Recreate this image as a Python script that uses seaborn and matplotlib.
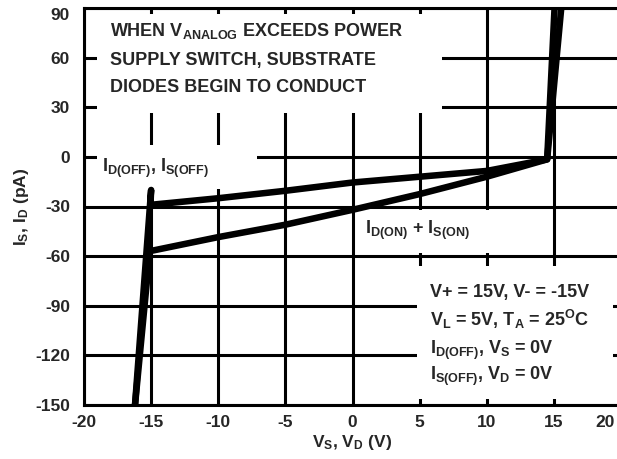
import numpy as np
import seaborn as sns
import matplotlib.pyplot as plt
from matplotlib.patches import Rectangle
from matplotlib.transforms import ScaledTranslation

# Leakage current curves
volts_off = [-16.2, -15.0, -15.05, -10.0, -5.0, 0.0, 5.0, 10.0, 14.5, 15.05]
ipa_off = [-150, -20, -29, -25, -20.5, -15.5, -12, -8.5, -1.5, 90]
volts_on = [-16.2, -15.1, -10.0, -5.0, 0.0, 5.0, 10.0, 14.5, 15.55]
ipa_on = [-150, -57, -48.5, -41, -32, -22.5, -12, -1.5, 90]

x_ticks = [-20, -15, -10, -5, 0, 5, 10, 15, 20]
y_ticks = [-150, -120, -90, -60, -30, 0, 30, 60, 90]

note_top = ["WHEN V$_{\\mathrm{ANALOG}}$ EXCEEDS POWER",
            "SUPPLY SWITCH, SUBSTRATE",
            "DIODES BEGIN TO CONDUCT"]
note_cond = ["V+ = 15V, V- = -15V",
             "V$_{\\mathrm{L}}$ = 5V, T$_{\\mathrm{A}}$ = 25$^{\\mathrm{O}}$C",
             "I$_{\\mathrm{D(OFF)}}$, V$_{\\mathrm{S}}$ = 0V",
             "I$_{\\mathrm{S(OFF)}}$, V$_{\\mathrm{D}}$ = 0V"]
label_off = "I$_{\\mathrm{D(OFF)}}$, I$_{\\mathrm{S(OFF)}}$"
label_on = "I$_{\\mathrm{D(ON)}}$ + I$_{\\mathrm{S(ON)}}$"

sns.set_theme(style="white")
plt.rcParams["font.family"] = ["Liberation Sans", "DejaVu Sans"]
plt.rcParams["font.weight"] = "bold"
plt.rcParams["mathtext.fontset"] = "custom"
plt.rcParams["mathtext.rm"] = "Liberation Sans:bold"
plt.rcParams["mathtext.it"] = "Liberation Sans:bold"
plt.rcParams["mathtext.bf"] = "Liberation Sans:bold"
plt.rcParams["axes.unicode_minus"] = False

fs = 13.0
fs_tick = 12.5
fig = plt.figure(figsize=(6.17, 4.59), dpi=100)
ax = fig.add_axes([84 / 617, 54 / 459, 537 / 617, 397 / 459])

# white boxes that hide the grid behind the notes
masks = [(-19.0, 26.5, 25.7, 60.0),
         (-19.0, -19.5, 11.9, 26.5),
         (0.5, -58.0, 13.9, 26.0),
         (4.8, -146.5, 14.6, 80.5)]
for x0, y0, w, h in masks:
    ax.add_patch(Rectangle((x0, y0), w, h, fc="white", ec="none", zorder=1))

sns.lineplot(x=volts_off, y=ipa_off, sort=False, estimator=None,
             color="black", lw=4.7, ax=ax, zorder=3)
sns.lineplot(x=volts_on, y=ipa_on, sort=False, estimator=None,
             color="black", lw=4.7, ax=ax, zorder=3)

ax.set_xlim(-20, 20)
ax.set_ylim(-150, 90)
ax.set_xticks(x_ticks)
ax.set_yticks(y_ticks)
ax.set_axisbelow(True)
ax.grid(True, color="black", lw=2.2)
for s in ax.spines.values():
    s.set_color("black")
    s.set_linewidth(2.2)
ax.tick_params(axis="both", length=0, labelsize=fs_tick)
ax.tick_params(axis="y", pad=10)
ax.tick_params(axis="x", pad=7)
for lab in ax.get_xticklabels() + ax.get_yticklabels():
    lab.set_fontweight("bold")

# last x label is squeezed inside the picture edge
last = ax.xaxis.get_majorticklabels()[-1]
last.set_transform(last.get_transform() + ScaledTranslation(-16 / 100, 0, fig.dpi_scale_trans))
top = ax.yaxis.get_majorticklabels()[-1]
top.set_transform(top.get_transform() + ScaledTranslation(0, -6 / 100, fig.dpi_scale_trans))

ax.set_xlabel("V$_{\\mathrm{S}}$, V$_{\\mathrm{D}}$ (V)", fontsize=fs_tick, fontweight="bold", labelpad=2)
ax.set_ylabel("I$_{\\mathrm{S}}$, I$_{\\mathrm{D}}$ (pA)", fontsize=fs_tick, fontweight="bold", labelpad=3)

for txt, yb in zip(note_top, [72.8, 55.5, 39.0]):
    ax.text(-18.06, yb, txt, fontsize=fs, fontweight="bold", va="baseline", zorder=4)
for txt, yb in zip(note_cond, [-84.5, -102.0, -119.4, -134.7]):
    ax.text(5.77, yb, txt, fontsize=fs, fontweight="bold", va="baseline", zorder=4)
ax.text(-18.66, -9.2, label_off, fontsize=fs, fontweight="bold", va="baseline", zorder=4)
ax.text(0.93, -46.5, label_on, fontsize=fs, fontweight="bold", va="baseline", zorder=4)

fig.savefig("out.png", dpi=100)
